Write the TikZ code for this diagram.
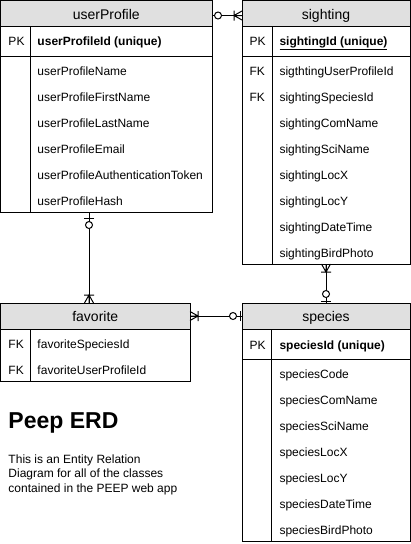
\documentclass[tikz,border=0pt]{standalone}
\usepackage{fontspec}
\setmainfont{Liberation Sans}
\usepackage{xcolor}
\definecolor{hdrgray}{RGB}{224,224,224}

\begin{document}
\begin{tikzpicture}[x=1pt,y=-1pt,line width=1pt,
	box/.style={draw,inner sep=0,outer sep=0,anchor=north west},
	head/.style={box,fill=hdrgray,minimum height=26,font=\fontsize{14}{16}\selectfont,text height=11pt,text depth=0pt},
	field/.style={anchor=base west,inner sep=0,font=\fontsize{12}{14}\selectfont},
	key/.style={field,font=\fontsize{12}{14}\selectfont\bfseries},
	crowfoot/.pic={\draw (0,-4.5) -- (8,0) -- (0,4.5) (0,0) -- (8,0) (8,-5) -- (8,5);},
	zeroone/.pic={\draw (2,-5) -- (2,5); \draw[fill=white] (9,0) circle (3.5pt);},
	zeroonly/.pic={\draw[fill=white] (6,0) circle (3.5pt);}]
	\useasboundingbox (0,0) rectangle (411,544);
	
	%USERPROFILE
	\node[box,minimum width=211.5,minimum height=211.5] (userProfile) at (0.5,0.5) {};
	\node[head,minimum width=211.5] (userProfileHead) at (userProfile.north west) {userProfile};
	\draw ([yshift=-56]userProfile.north west) -- ([yshift=-56]userProfile.north east);
	\draw ([xshift=29.5]userProfileHead.south west) -- ([xshift=29.5]userProfile.south west);
	\node[field] (userProfilePK) at (8,45) {PK};
	\node[key] (userProfileId) at (37,45) {userProfileId (unique)};
	\foreach \f [count=\i] in {userProfileName,userProfileFirstName,userProfileLastName,userProfileEmail,userProfileAuthenticationToken,userProfileHash}
		\node[field] (userProfileF\i) at (37,49+26*\i) {\f};
	
	%SIGHTING
	\node[box,minimum width=168,minimum height=263.5] (sighting) at (242,0.5) {};
	\node[head,minimum width=168] (sightingHead) at (sighting.north west) {sighting};
	\draw ([yshift=-56]sighting.north west) -- ([yshift=-56]sighting.north east);
	\draw ([xshift=30]sightingHead.south west) -- ([xshift=30]sighting.south west);
	\node[field] (sightingPK) at (249,45) {PK};
	\node[key] (sightingId) at (279,45) {\underline{sightingId (unique)}};
	\node[field] (sightingFK1) at (249,75) {FK};
	\node[field] (sightingFK2) at (249,101) {FK};
	\foreach \f [count=\i] in {sigthtingUserProfileId,sightingSpeciesId,sightingComName,sightingSciName,sightingLocX,sightingLocY,sightingDateTime,sightingBirdPhoto}
		\node[field] (sightingF\i) at (279,49+26*\i) {\f};
	
	%FAVORITE
	\node[box,minimum width=189.5,minimum height=78] (favorite) at (0.5,303) {};
	\node[head,minimum width=189.5] (favoriteHead) at (favorite.north west) {favorite};
	\draw ([xshift=29.5]favoriteHead.south west) -- ([xshift=29.5]favorite.south west);
	\node[field] (favoriteFK1) at (8,348) {FK};
	\node[field] (favoriteFK2) at (8,374) {FK};
	\foreach \f [count=\i] in {favoriteSpeciesId,favoriteUserProfileId}
		\node[field] (favoriteF\i) at (37,322+26*\i) {\f};
	
	%SPECIES
	\node[box,minimum width=168,minimum height=238] (species) at (242,303) {};
	\node[head,minimum width=168] (speciesHead) at (species.north west) {species};
	\draw ([yshift=-56]species.north west) -- ([yshift=-56]species.north east);
	\draw ([xshift=29]speciesHead.south west) -- ([xshift=29]species.south west);
	\node[field] (speciesPK) at (249,349) {PK};
	\node[key] (speciesId) at (279,349) {speciesId (unique)};
	\foreach \f [count=\i] in {speciesCode,speciesComName,speciesSciName,speciesLocX,speciesLocY,speciesDateTime,speciesBirdPhoto}
		\node[field] (speciesF\i) at (279,352+26*\i) {\f};
	
	%RELATIONS
	\draw ([yshift=-2]userProfileHead.east) -- ([yshift=-2]sightingHead.west); %userProfile -- sighting
	\pic at ([yshift=-2]userProfileHead.east) {zeroonly};
	\pic[rotate=180] at ([yshift=-2]sightingHead.west) {crowfoot};
	%
	\draw ([xshift=-17.25]userProfile.south) -- ([xshift=-6.25]favoriteHead.north); %userProfile -- favorite
	\pic[rotate=-90] at ([xshift=-17.25,yshift=-4]userProfile.south) {zeroone};
	\pic[rotate=90] at ([xshift=-6.25]favoriteHead.north) {crowfoot};
	%
	\draw (favoriteHead.east) -- (speciesHead.west); %favorite -- species
	\pic at (favoriteHead.east) {crowfoot};
	\pic[rotate=180] at (speciesHead.west) {zeroone};
	%
	\draw (sighting.south) -- (speciesHead.north); %sighting -- species
	\pic[rotate=-90] at (sighting.south) {crowfoot};
	\pic[rotate=90] at (speciesHead.north) {zeroone};
	
	%TITLE
	\node[anchor=base west,inner sep=0,font=\fontsize{23}{27}\selectfont\bfseries] (title) at (8,428) {Peep ERD};
	\node[anchor=base west,inner sep=0,align=left,font=\fontsize{12}{14.5}\selectfont] (note) at (8,492) {This is an Entity Relation\\Diagram for all of the classes\\contained in the PEEP web app};
\end{tikzpicture}
\end{document}
